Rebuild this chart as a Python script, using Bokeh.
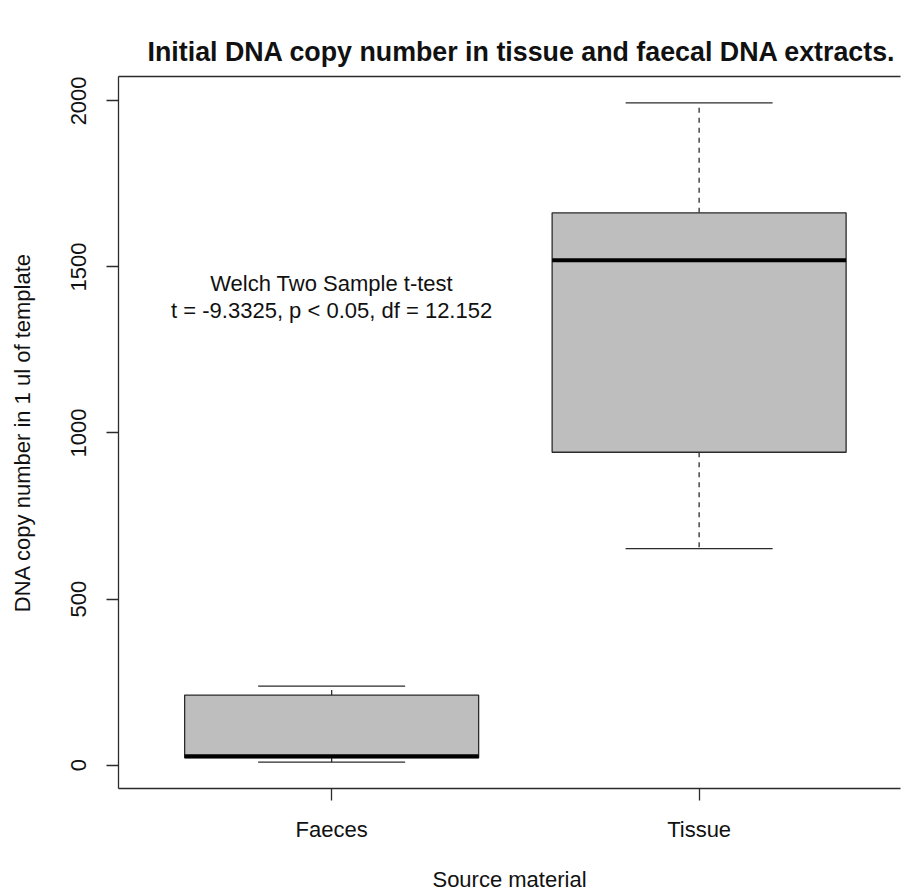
from bokeh.plotting import figure
from bokeh.models import Range1d, FixedTicker, LinearAxis, ColumnDataSource
from bokeh.embed import file_html
from bokeh.resources import INLINE
from bokeh.core.properties import value

# Five-number summaries of the DNA copy number per source material
groups = ["Faeces", "Tissue"]
lower_whisker = [9, 652]
lower_hinge = [22, 942]
medians = [27, 1520]
upper_hinge = [211, 1663]
upper_whisker = [238, 1994]
y_ticks = [0, 500, 1000, 1500, 2000]

title_text = "Initial DNA copy number in tissue and faecal DNA extracts."
x_title = "Source material"
y_title = "DNA copy number in 1 ul of template"
test_text = "Welch Two Sample t-test\nt = -9.3325, p < 0.05, df = 12.152"
test_x, test_y = 1, 1408

FONT = "Liberation Sans"
LINE = "#2b2b2b"
TEXT = "#111111"
BOX_FILL = "#bebebe"
BOX_WIDTH = 0.8
CAP_WIDTH = 0.4

xs = [i + 1 for i in range(len(groups))]

# y limits padded by 4% like a base R boxplot
lo = min(lower_whisker)
hi = max(upper_whisker)
pad = 0.04 * (hi - lo)

p = figure(
    width=901, height=894,
    x_range=Range1d(0.42, 2.548),
    y_range=Range1d(lo - pad, hi + pad),
    output_backend="svg", toolbar_location=None,
    min_border_left=118, min_border_right=1,
    min_border_top=76, min_border_bottom=106,
    x_axis_label=x_title, y_axis_label=y_title,
)
p.outline_line_color = None
p.grid.visible = False
p.background_fill_color = "white"
p.border_fill_color = "white"

p.title.text = title_text
p.title.align = "left"
p.title.offset = 29
p.title.text_font = FONT
p.title.text_font_size = "26.8px"
p.title.text_font_style = "bold"
p.title.text_color = TEXT
p.title.standoff = 19

src = ColumnDataSource(dict(
    x=xs,
    left=[x - BOX_WIDTH / 2 for x in xs],
    right=[x + BOX_WIDTH / 2 for x in xs],
    cap_l=[x - CAP_WIDTH / 2 for x in xs],
    cap_r=[x + CAP_WIDTH / 2 for x in xs],
    lw=lower_whisker, q1=lower_hinge, med=medians, q3=upper_hinge, uw=upper_whisker,
))

# dashed whiskers
p.segment(x0="x", y0="q3", x1="x", y1="uw", source=src,
          line_color=LINE, line_width=1.3, line_dash="5 5")
p.segment(x0="x", y0="q1", x1="x", y1="lw", source=src,
          line_color=LINE, line_width=1.3, line_dash="5 5")
# staples
p.segment(x0="cap_l", y0="uw", x1="cap_r", y1="uw", source=src,
          line_color=LINE, line_width=1.3)
p.segment(x0="cap_l", y0="lw", x1="cap_r", y1="lw", source=src,
          line_color=LINE, line_width=1.3)
# boxes
p.quad(left="left", right="right", bottom="q1", top="q3", source=src,
       fill_color=BOX_FILL, line_color=LINE, line_width=1.3)
# medians
p.segment(x0="left", y0="med", x1="right", y1="med", source=src,
          line_color="black", line_width=4)

p.text(x=[test_x], y=[test_y], text=[test_text],
       text_align="center", text_baseline="middle",
       text_font=value(FONT), text_font_size="22px",
       text_color=TEXT, text_line_height=1.08)

# axes
xa = p.xaxis[0]
xa.ticker = FixedTicker(ticks=xs)
xa.major_label_overrides = {x: g for x, g in zip(xs, groups)}
ya = p.yaxis[0]
ya.ticker = FixedTicker(ticks=y_ticks)
ya.major_label_orientation = "vertical"

for ax in (xa, ya):
    ax.axis_line_color = LINE
    ax.axis_line_width = 1.3
    ax.major_tick_line_color = LINE
    ax.major_tick_line_width = 1.3
    ax.major_tick_out = 12
    ax.major_tick_in = 0
    ax.minor_tick_line_color = None
    ax.major_label_text_font = FONT
    ax.major_label_text_font_size = "22px"
    ax.major_label_text_color = TEXT
    ax.axis_label_text_font = FONT
    ax.axis_label_text_font_size = "22px"
    ax.axis_label_text_font_style = "normal"
    ax.axis_label_text_color = TEXT

xa.major_label_standoff = 16
xa.axis_label_standoff = 22
ya.major_label_standoff = 20
ya.axis_label_standoff = 34

# top edge of the plotting box
top = LinearAxis(ticker=FixedTicker(ticks=[]))
top.axis_line_color = LINE
top.axis_line_width = 1.3
top.major_tick_line_color = None
top.minor_tick_line_color = None
top.major_label_text_font_size = "0px"
p.add_layout(top, "above")

open("out.html", "w").write(file_html(p, INLINE))
